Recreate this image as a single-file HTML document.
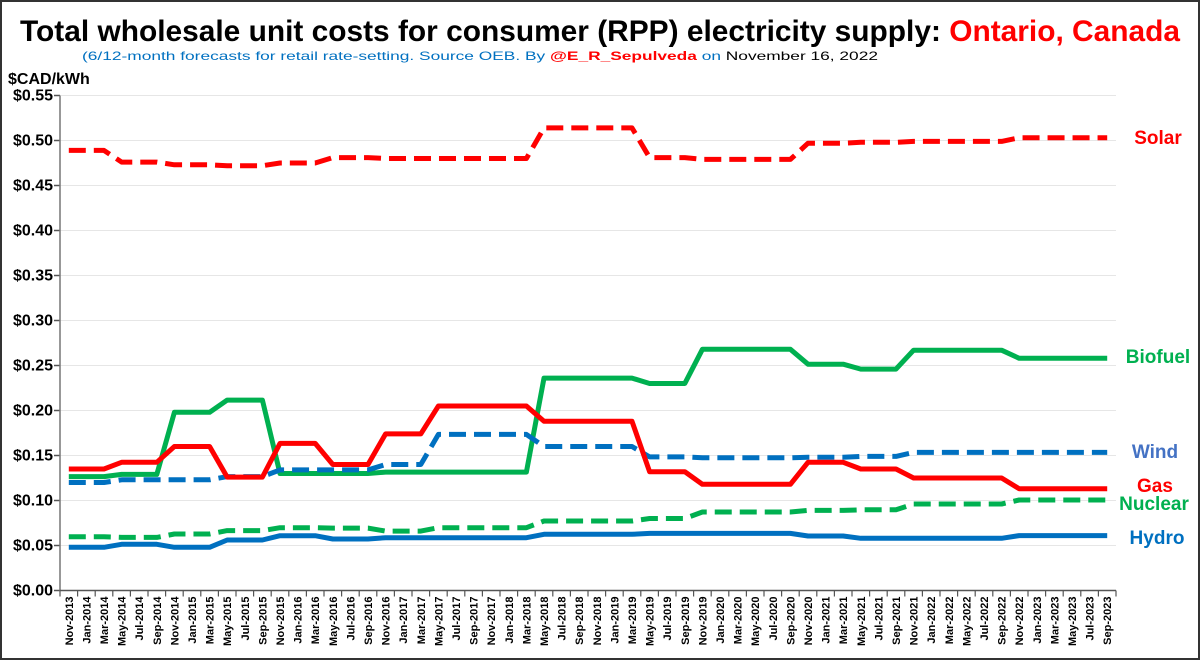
<!DOCTYPE html>
<html><head><meta charset="utf-8"><style>
html,body{margin:0;padding:0;background:#fff}
svg{display:block;font-family:"Liberation Sans",sans-serif}
</style></head><body>
<svg id="chart" width="1200" height="660" viewBox="0 0 1200 660">
<rect x="1" y="1" width="1198" height="658" fill="#fff" stroke="#333" stroke-width="2"/>
<text x="600" y="41" text-anchor="middle" font-size="30" font-weight="bold" textLength="1160" lengthAdjust="spacingAndGlyphs"><tspan fill="#000">Total wholesale unit costs for consumer (RPP) electricity supply: </tspan><tspan fill="#ff0000">Ontario, Canada</tspan></text>
<text x="480" y="60" text-anchor="middle" font-size="12" fill="#0070c0" textLength="796" lengthAdjust="spacingAndGlyphs">(6/12-month forecasts for retail rate-setting. Source OEB. By <tspan fill="#ff0000" font-weight="bold">@E_R_Sepulveda</tspan> on <tspan fill="#000">November 16, 2022</tspan></text>
<text x="8" y="84" font-size="16" font-weight="bold" fill="#000">$CAD/kWh</text>
<g id="grid"></g><g id="axes"></g><g id="series"></g><g id="labels"></g>
</svg>
<script>
const periods = ["Nov-2013","May-2014","Nov-2014","May-2015","Nov-2015","May-2016","Nov-2016","May-2017","Nov-2017","May-2018","Nov-2018","May-2019","Nov-2019","May-2020","Nov-2020","May-2021","Nov-2021","May-2022","Nov-2022","May-2023"];
const solar   = [0.489,0.476,0.473,0.472,0.475,0.481,0.480,0.480,0.480,0.514,0.514,0.481,0.479,0.479,0.497,0.498,0.499,0.499,0.503,0.503];
const biofuel = [0.1265,0.129,0.198,0.2115,0.130,0.130,0.1315,0.1315,0.1315,0.236,0.236,0.230,0.268,0.268,0.2515,0.246,0.267,0.267,0.258,0.258];
const wind    = [0.120,0.123,0.123,0.1265,0.134,0.134,0.140,0.1735,0.1735,0.160,0.160,0.1485,0.1475,0.1475,0.148,0.149,0.1535,0.1535,0.1535,0.1535];
const gas     = [0.135,0.1425,0.160,0.126,0.1635,0.140,0.174,0.205,0.205,0.188,0.188,0.132,0.118,0.118,0.1425,0.135,0.125,0.125,0.113,0.113];
const nuclear = [0.0598,0.059,0.0628,0.0665,0.0698,0.0693,0.066,0.0698,0.0698,0.0772,0.0772,0.080,0.0872,0.0872,0.089,0.0897,0.0961,0.0961,0.1006,0.1006];
const hydro   = [0.048,0.0513,0.048,0.0561,0.0609,0.0572,0.0587,0.0587,0.0587,0.0624,0.0624,0.0635,0.0635,0.0635,0.0605,0.058,0.058,0.058,0.061,0.061];
const yTicks  = [0,0.05,0.10,0.15,0.20,0.25,0.30,0.35,0.40,0.45,0.50,0.55];
const months  = ["Jan","Mar","May","Jul","Sep","Nov"];

const NS="http://www.w3.org/2000/svg";
const X0=60,X1=1116,Y0=590.5,Y1=95.5,YMAX=0.55;
const nCat=periods.length*3, cw=(X1-X0)/nCat;
const xs=i=>X0+(i+0.5)*cw;
const ys=v=>Y0-(v/YMAX)*(Y0-Y1);
function mk(tag,attrs,parent){const e=document.createElementNS(NS,tag);for(const k in attrs)e.setAttribute(k,attrs[k]);parent.appendChild(e);return e;}
const grid=document.getElementById('grid'),axes=document.getElementById('axes'),ser=document.getElementById('series'),lab=document.getElementById('labels');

yTicks.forEach(v=>{
  const y=ys(v);
  if(v>0){const g=mk('line',{x1:X0,x2:X1,y1:y,y2:y,stroke:'#e6e6e6','stroke-width':1},grid);
    
    }
  const t=mk('line',{x1:X0-6,x2:X0,y1:y,y2:y,stroke:'#555','stroke-width':1.5},axes);
  
  
  const tx=mk('text',{x:X0-7,y:y+5,'text-anchor':'end','font-size':16,'font-weight':'bold',fill:'#000'},axes);
  tx.textContent='$'+v.toFixed(2);
  
  
});
const ya=mk('line',{x1:X0,x2:X0,y1:Y1,y2:Y0,stroke:'#777','stroke-width':1.5},axes);


const xa=mk('line',{x1:X0,x2:X1,y1:Y0,y2:Y0,stroke:'#555','stroke-width':1.5},axes);



const startYear=parseInt(periods[0].split('-')[1]);
for(let i=0;i<nCat;i++){
  const mIdx=(5+i)%6, yr=startYear+Math.floor((5+i)/6);
  const label=months[mIdx]+'-'+yr;
  const t=mk('line',{x1:X0+i*cw,x2:X0+i*cw,y1:Y0,y2:Y0+6,stroke:'#555','stroke-width':1.2},axes);
  
  
  const x=xs(i)+4;
  const tx=mk('text',{x:x,y:Y0+6,'text-anchor':'end','font-size':11,'font-weight':'bold',fill:'#000',transform:`rotate(-90 ${x} ${Y0+6})`},axes);
  tx.textContent=label;
  
  
}
{const t=mk('line',{x1:X1,x2:X1,y1:Y0,y2:Y0+6,stroke:'#555','stroke-width':1.2},axes);
  
  }

function draw(data,color,dashed,name,label,lx,ly){
  const pts=[];
  data.forEach((v,p)=>{for(let k=0;k<3;k++)pts.push(xs(p*3+k).toFixed(1)+','+ys(v).toFixed(1));});
  const a={points:pts.join(' '),fill:'none',stroke:color,'stroke-width':5,'stroke-linejoin':'round'};
  if(dashed){a['stroke-dasharray']='17,8';}
  const pl=mk('polyline',a,ser);
  
  
  const t=mk('text',{x:lx,y:ly,'text-anchor':'middle','font-size':19,'font-weight':'bold',fill:color},lab);
  t.textContent=label;
  
  
  return t;
}
draw(solar,'#ff0000',true,'solar','Solar',1158,144);
draw(biofuel,'#00b050',false,'biofuel','Biofuel',1158,363);
draw(wind,'#0070c0',true,'wind','Wind',1155,458).setAttribute('fill','#4472c4');
draw(gas,'#ff0000',false,'gas','Gas',1155,492);
draw(nuclear,'#00b050',true,'nuclear','Nuclear',1154,510);
draw(hydro,'#0070c0',false,'hydro','Hydro',1157,544);
</script>
</body></html>
